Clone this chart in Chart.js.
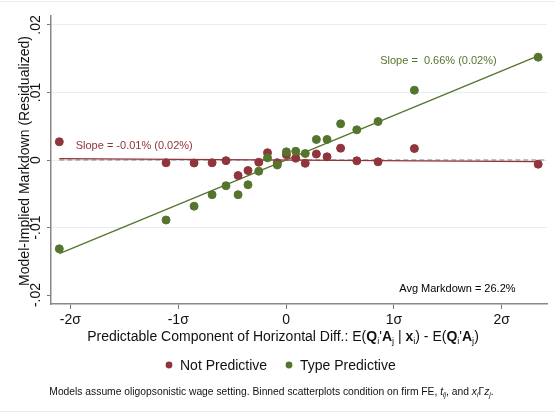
<!DOCTYPE html>
<html>
<head>
<meta charset="utf-8">
<script src="https://cdn.jsdelivr.net/npm/chart.js@4.4.1/dist/chart.umd.min.js"></script>
<style>
  html, body { margin: 0; padding: 0; background: #fff; }
  canvas { display: block; }
</style>
</head>
<body>
<canvas id="c" width="555" height="413"></canvas>
<script>
// Bin positions along the predictable component (in σ units)
const binX = [-2.103, -1.113, -0.853, -0.686, -0.557, -0.445, -0.353, -0.253, -0.172, -0.081,
              0.003, 0.090, 0.178, 0.281, 0.380, 0.506, 0.656, 0.853, 1.190, 2.338];
// Binned model-implied markdown (residualized), one value per bin
const notPredictive = [0.0027, -0.00041, -0.00044, -0.00041, -0.0001, -0.0023, -0.00156, -0.00033, 0.00108, -0.0004,
                       0.00079, 0.00027, -0.00049, 0.00089, 0.00047, 0.00175, -0.00012, -0.00027, 0.0017, -0.00062];
const typePredictive = [-0.01316, -0.00889, -0.00684, -0.00514, -0.00381, -0.00514, -0.00367, -0.00166, 0.00033, -0.00074,
                        0.00121, 0.0013, 0.00096, 0.00304, 0.00304, 0.00536, 0.00447, 0.0057, 0.01034, 0.01523];
const seriesNames = ['Not Predictive', 'Type Predictive'];
// Linear fits: slope per σ and intercept
const fitSlopes = [-0.0001, 0.0066];
const fitIntercepts = [0.0, 0.0];
const slopeLabels = ['Slope = -0.01% (0.02%)', 'Slope =  0.66% (0.02%)'];
const avgLabel = 'Avg Markdown = 26.2%';
const xTicks = [-2, -1, 0, 1, 2];
const xTickLabels = ['-2\u03c3', '-1\u03c3', '0', '1\u03c3', '2\u03c3'];
const yTicks = [-0.02, -0.01, 0, 0.01, 0.02];
const yTickLabels = ['-.02', '-.01', '0', '.01', '.02'];

const RED = '#90353b';
const GREEN = '#55752f';
const FONT = '"Liberation Sans", Arial, Helvetica, sans-serif';
const X_MIN = -2.18, X_MAX = 2.42, Y_LIM = 0.02133;

function fitLine(k) {
  const x0 = binX[0], x1 = binX[binX.length - 1];
  return [
    { x: x0, y: fitIntercepts[k] + fitSlopes[k] * x0 },
    { x: x1, y: fitIntercepts[k] + fitSlopes[k] * x1 }
  ];
}

// Rich text: segments {t, b (bold), i (italic), sub}
function segFont(s, size) {
  const sz = s.sub ? size * 0.66 : size;
  return (s.i ? 'italic ' : '') + (s.b ? 'bold ' : '') + sz + 'px ' + FONT;
}
function richWidth(ctx, segs, size) {
  let w = 0;
  segs.forEach(s => { ctx.font = segFont(s, size); w += ctx.measureText(s.t).width; });
  return w;
}
function drawRich(ctx, segs, cx, baseline, size, color) {
  let x = cx - richWidth(ctx, segs, size) / 2;
  ctx.fillStyle = color;
  ctx.textAlign = 'left';
  ctx.textBaseline = 'alphabetic';
  segs.forEach(s => {
    ctx.font = segFont(s, size);
    ctx.fillText(s.t, x, baseline + (s.sub ? size * 0.22 : 0));
    x += ctx.measureText(s.t).width;
  });
}

const xTitle = [
  { t: 'Predictable Component of Horizontal Diff.: E(' },
  { t: 'Q', b: true }, { t: 'i', sub: true }, { t: '\'' },
  { t: 'A', b: true }, { t: 'j', sub: true }, { t: ' | ' },
  { t: 'x', b: true }, { t: 'i', sub: true }, { t: ') - E(' },
  { t: 'Q', b: true }, { t: 'i', sub: true }, { t: '\'' },
  { t: 'A', b: true }, { t: 'j', sub: true }, { t: ')' }
];
const footnote = [
  { t: 'Models assume oligopsonistic wage setting. Binned scatterplots condition on firm FE, ' },
  { t: 't', i: true }, { t: 'ij', i: true, sub: true }, { t: ', and ' },
  { t: 'x', i: true }, { t: 'i', i: true, sub: true }, { t: '\u0393' },
  { t: 'z', i: true }, { t: 'j', i: true, sub: true }, { t: '.' }
];

const decorations = {
  id: 'decorations',
  afterDatasetsDraw(chart) {
    const ctx = chart.ctx;
    const xs = chart.scales.x, ys = chart.scales.y;
    ctx.save();
    ctx.font = '11px ' + FONT;
    ctx.textAlign = 'left';
    ctx.textBaseline = 'alphabetic';
    ctx.fillStyle = RED;
    ctx.fillText(slopeLabels[0], xs.getPixelForValue(-1.951), ys.getPixelForValue(0.0017));
    ctx.fillStyle = GREEN;
    ctx.fillText(slopeLabels[1], xs.getPixelForValue(0.873), ys.getPixelForValue(0.01422));
    ctx.fillStyle = '#000';
    ctx.fillText(avgLabel, xs.getPixelForValue(1.05), ys.getPixelForValue(-0.01956));
    ctx.restore();
  },
  afterDraw(chart) {
    const ctx = chart.ctx;
    const ys = chart.scales.y;
    const W = chart.width;
    ctx.save();
    // outer frame lines
    ctx.strokeStyle = '#e6eef0';
    ctx.lineWidth = 1;
    ctx.beginPath();
    ctx.moveTo(0, 1.5); ctx.lineTo(W, 1.5);
    ctx.moveTo(0, 411.5); ctx.lineTo(W, 411.5);
    ctx.stroke();

    // rotated y tick labels
    ctx.fillStyle = '#111';
    ctx.font = '14px ' + FONT;
    ctx.textAlign = 'center';
    ctx.textBaseline = 'alphabetic';
    yTicks.forEach((v, k) => {
      ctx.save();
      ctx.translate(40, ys.getPixelForValue(v));
      ctx.rotate(-Math.PI / 2);
      ctx.fillText(yTickLabels[k], 0, 0);
      ctx.restore();
    });

    // y axis title
    ctx.save();
    ctx.translate(29, 161);
    ctx.rotate(-Math.PI / 2);
    ctx.fillText('Model-Implied Markdown (Residualized)', 0, 0);
    ctx.restore();

    // x axis title
    drawRich(ctx, xTitle, 283, 341, 14, '#111');

    // legend
    const legend = [
      { x: 169, color: RED, label: seriesNames[0] },
      { x: 289, color: GREEN, label: seriesNames[1] }
    ];
    legend.forEach(it => {
      ctx.beginPath();
      ctx.arc(it.x, 365, 3.4, 0, Math.PI * 2);
      ctx.fillStyle = it.color;
      ctx.fill();
      ctx.fillStyle = '#111';
      ctx.font = '14px ' + FONT;
      ctx.textAlign = 'left';
      ctx.fillText(it.label, it.x + 11, 370);
    });

    // footnote
    drawRich(ctx, footnote, 271.5, 395, 10.3, '#111');
    ctx.restore();
  }
};

new Chart(document.getElementById('c'), {
  type: 'scatter',
  data: {
    datasets: [
      {
        label: seriesNames[1],
        data: binX.map((x, k) => ({ x, y: typePredictive[k] })),
        backgroundColor: GREEN, borderColor: GREEN,
        pointRadius: 4, borderWidth: 1, order: 0
      },
      {
        label: seriesNames[0],
        data: binX.map((x, k) => ({ x, y: notPredictive[k] })),
        backgroundColor: RED, borderColor: RED,
        pointRadius: 4, borderWidth: 1, order: 1
      },
      {
        label: 'fit ' + seriesNames[1],
        data: fitLine(1), showLine: true, pointRadius: 0,
        borderColor: GREEN, borderWidth: 1.3, order: 2
      },
      {
        label: 'fit ' + seriesNames[0],
        data: fitLine(0), showLine: true, pointRadius: 0,
        borderColor: RED, borderWidth: 1.3, order: 2
      },
      {
        label: 'zero',
        data: [{ x: binX[0], y: 0 }, { x: X_MAX, y: 0 }],
        showLine: true, pointRadius: 0,
        borderColor: '#a9a9a9', borderWidth: 1.3, borderDash: [5, 3], order: 3
      }
    ]
  },
  options: {
    responsive: false,
    animation: false,
    devicePixelRatio: 1,
    layout: { padding: { top: 16, right: 8, left: 0, bottom: 0 } },
    plugins: { legend: { display: false }, tooltip: { enabled: false } },
    scales: {
      x: {
        type: 'linear', min: X_MIN, max: X_MAX,
        afterBuildTicks: s => { s.ticks = xTicks.map(v => ({ value: v })); },
        afterFit: s => { s.height = 109; },
        ticks: {
          callback: (v, i) => xTickLabels[i],
          font: { family: FONT, size: 14 }, color: '#111',
          padding: 3, maxRotation: 0, minRotation: 0, autoSkip: false
        },
        grid: { drawOnChartArea: false, drawTicks: true, tickLength: 5, tickColor: '#777', tickWidth: 1 },
        border: { color: '#888', width: 1.5 }
      },
      y: {
        type: 'linear', min: -Y_LIM, max: Y_LIM,
        afterBuildTicks: s => { s.ticks = yTicks.map(v => ({ value: v })); },
        afterFit: s => { s.width = 51; },
        ticks: { display: false },
        grid: {
          color: c => (c.tick && c.tick.value < -0.015) ? 'rgba(0,0,0,0)' : '#e6eef0',
          lineWidth: 1, drawTicks: true, tickLength: 4, tickColor: '#777'
        },
        border: { color: '#888', width: 1.5 }
      }
    }
  },
  plugins: [decorations]
});
</script>
</body>
</html>
